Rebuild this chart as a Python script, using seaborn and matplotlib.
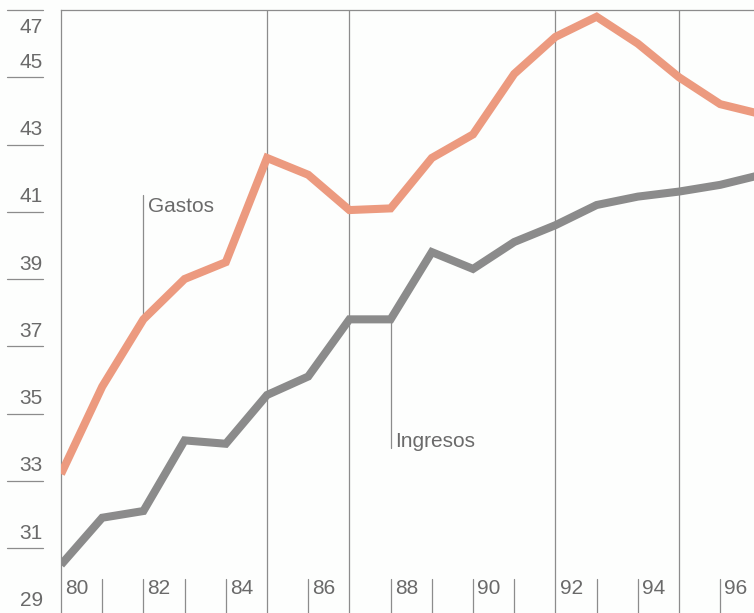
import pandas as pd
import matplotlib
matplotlib.use("Agg")
import matplotlib.pyplot as plt
import matplotlib.transforms as mtransforms
import seaborn as sns

# values (% del PIB)
years = list(range(1980, 1998))
gastos = [33.2, 35.8, 37.8, 39.0, 39.5, 42.6, 42.1, 41.05, 41.1, 42.6,
          43.3, 45.1, 46.2, 46.8, 46.0, 45.0, 44.2, 43.9]
ingresos = [30.5, 31.9, 32.1, 34.2, 34.1, 35.55, 36.1, 37.8, 37.8, 39.8,
            39.3, 40.1, 40.6, 41.2, 41.45, 41.6, 41.8, 42.1]
y_ticks = [29, 31, 33, 35, 37, 39, 41, 43, 45, 47]
x_labels = ["80", "82", "84", "86", "88", "90", "92", "94", "96"]
label_years = [1980, 1982, 1984, 1986, 1988, 1990, 1992, 1994, 1996]
grid_years = [1985, 1987, 1992, 1995]

df = pd.DataFrame({
    "year": years * 2,
    "value": gastos + ingresos,
    "serie": ["Gastos"] * len(years) + ["Ingresos"] * len(years),
})

sns.set_style("white")
plt.rcParams["font.family"] = ["Liberation Sans", "DejaVu Sans"]

txt_color = "#6a6a6a"
rule_color = "#8c8c8c"
fs = 15

fig = plt.figure(figsize=(7.54, 6.13), dpi=100, facecolor="#fdfefd")
ax = fig.add_axes([61 / 754, -2.25 / 613, 693 / 754, 605.25 / 613])
ax.set_facecolor("#fdfefd")

sns.lineplot(data=df, x="year", y="value", hue="serie",
             palette={"Gastos": "#ec9a7f", "Ingresos": "#8b8b8b"},
             linewidth=5.8, legend=False, ax=ax,
             solid_joinstyle="miter", solid_capstyle="butt", zorder=3)

ax.set_xlim(1980, 1996.82)
ax.set_ylim(29, 47)
ax.set_xticks([])
ax.set_yticks([])
ax.set_xlabel("")
ax.set_ylabel("")
for side in ["right", "bottom"]:
    ax.spines[side].set_visible(False)
for side in ["left", "top"]:
    ax.spines[side].set_color(rule_color)
    ax.spines[side].set_linewidth(0.9)

# full-height vertical rules
for yr in grid_years:
    ax.axvline(yr, color=rule_color, lw=0.9, zorder=1)

# short year ticks at the bottom
for yr in years[1:17]:
    if yr not in grid_years:
        ax.plot([yr, yr], [29, 30.08], color=rule_color, lw=0.9, zorder=1)
for yr, lab in zip(label_years, x_labels):
    ax.text(yr + 0.1, 29.64, lab, fontsize=fs, color=txt_color,
            ha="left", va="baseline")

# y labels with short rules to the left of the frame
trans = mtransforms.blended_transform_factory(ax.transAxes, ax.transData)
for v in y_ticks:
    ax.plot([-0.0779, -0.026], [v, v], color=rule_color, lw=0.9,
            transform=trans, clip_on=False)
    yb = v - 0.68 if v == 47 else v + 0.28
    ax.text(-0.026, yb, str(v), fontsize=fs, color=txt_color,
            ha="right", va="baseline", transform=trans, clip_on=False)

# series labels with leader lines
ax.plot([1982, 1982], [37.8, 41.5], color=rule_color, lw=0.9, zorder=2)
ax.text(1982.12, 41.0, "Gastos", fontsize=fs, color=txt_color,
        ha="left", va="baseline")
ax.plot([1988, 1988], [37.8, 33.97], color=rule_color, lw=0.9, zorder=2)
ax.text(1988.1, 34.0, "Ingresos", fontsize=fs, color=txt_color,
        ha="left", va="baseline")

fig.savefig("out.png", dpi=100, facecolor=fig.get_facecolor())
